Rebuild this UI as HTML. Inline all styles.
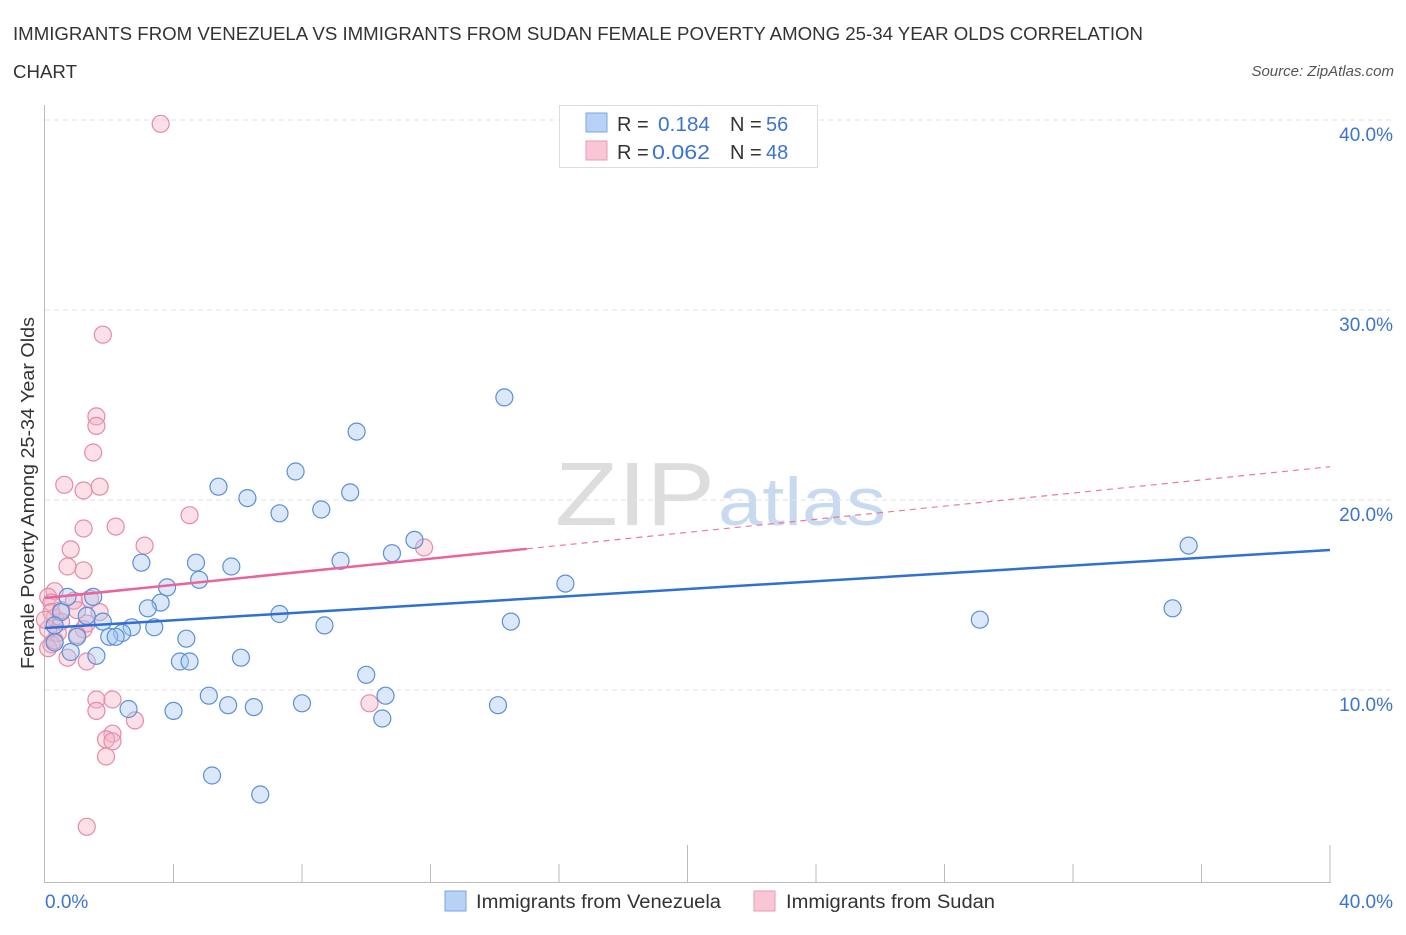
<!DOCTYPE html>
<html><head><meta charset="utf-8"><style>
body{margin:0;background:#fff;font-family:"Liberation Sans",sans-serif;}
svg text{font-family:"Liberation Sans",sans-serif;}
</style></head><body>
<svg id="chart" width="1406" height="930" xmlns="http://www.w3.org/2000/svg">
<text x="13" y="40" font-size="18" fill="#333" textLength="1130" lengthAdjust="spacingAndGlyphs">IMMIGRANTS FROM VENEZUELA VS IMMIGRANTS FROM SUDAN FEMALE POVERTY AMONG 25-34 YEAR OLDS CORRELATION</text>
<text x="13" y="78" font-size="18" fill="#333" textLength="64" lengthAdjust="spacingAndGlyphs">CHART</text>
<text x="1394" y="76" font-size="15" fill="#555" text-anchor="end" font-style="italic">Source: ZipAtlas.com</text>
<text x="555" y="525" font-size="90" fill="#ddd" font-family="Liberation Serif" textLength="160" lengthAdjust="spacingAndGlyphs">ZIP</text>
<text x="718" y="525" font-size="68" fill="#c8daf0" textLength="168" lengthAdjust="spacingAndGlyphs">atlas</text>
<g id="grid"></g>
<g id="axes"></g>
<g id="marks"></g>
<text transform="translate(34,493) rotate(-90)" font-size="18" fill="#333" text-anchor="middle" textLength="352" lengthAdjust="spacingAndGlyphs">Female Poverty Among 25-34 Year Olds</text>
<g>
<rect x="559.5" y="105.5" width="258" height="62" fill="#fff" stroke="#ddd"/>
<rect x="586" y="113" width="21" height="19" fill="#b8d2f6" stroke="#7aa6e6"/>
<rect x="586" y="141" width="21" height="19" fill="#f9c6d6" stroke="#eb9ab4"/>
<text x="617" y="131" font-size="20" fill="#333">R =</text>
<text x="658" y="131" font-size="20" fill="#3b74d0" textLength="52" lengthAdjust="spacingAndGlyphs">0.184</text>
<text x="730" y="131" font-size="20" fill="#333">N =</text>
<text x="766" y="131" font-size="20" fill="#3b74d0">56</text>
<text x="617" y="159" font-size="20" fill="#333">R =</text>
<text x="652" y="159" font-size="20" fill="#3b74d0" textLength="58" lengthAdjust="spacingAndGlyphs">0.062</text>
<text x="730" y="159" font-size="20" fill="#333">N =</text>
<text x="766" y="159" font-size="20" fill="#3b74d0">48</text>
</g>
<g>
<rect x="445" y="891" width="21" height="20" fill="#b8d2f6" stroke="#7aa6e6"/>
<text x="476" y="908" font-size="19" fill="#333" textLength="245" lengthAdjust="spacingAndGlyphs">Immigrants from Venezuela</text>
<rect x="754" y="891" width="21" height="20" fill="#f9c6d6" stroke="#eb9ab4"/>
<text x="786" y="908" font-size="19" fill="#333" textLength="209" lengthAdjust="spacingAndGlyphs">Immigrants from Sudan</text>
</g>
</svg>
<script>
const blueX=[14.3,9.7,7.8,5.4,6.3,9.5,8.6,7.3,11.5,10.8,9.2,4.7,5.8,3.0,35.6,16.2,4.8,3.8,3.6,3.2,35.1,1.5,0.7,0.5,1.8,2.7,3.4,2.4,2.0,2.2,4.4,7.3,8.7,14.5,29.1,0.3,1.0,0.3,0.8,1.6,6.1,4.2,4.5,10.0,5.1,10.6,5.7,8.0,6.5,2.6,4.0,14.1,10.5,5.2,6.7,1.3];
const blueY=[25.4,23.6,21.5,20.7,20.1,20.4,19.5,19.3,17.9,17.2,16.8,16.7,16.5,16.7,17.6,15.6,15.8,15.4,14.6,14.3,14.3,14.9,14.9,14.1,13.6,13.3,13.3,13.0,12.8,12.8,12.7,14.0,13.4,13.6,13.7,12.5,12.8,13.4,12.0,11.8,11.7,11.5,11.5,10.8,9.7,9.7,9.2,9.3,9.1,9.0,8.9,9.2,8.5,5.5,4.5,13.9];
const pinkX=[3.6,1.8,1.6,1.6,1.5,0.6,1.7,1.2,4.5,1.2,2.2,3.1,0.8,11.8,0.7,1.2,0.3,0.1,0.2,0.9,1.4,0.3,0.5,1.7,1.2,0.4,1.3,0.2,0.1,0.3,1.0,0.7,1.3,1.6,2.1,1.6,2.8,10.1,2.1,1.9,2.1,1.9,1.3,0.2,0.1,1.0,0.5,0.0];
const pinkY=[39.8,28.7,24.4,23.9,22.5,20.8,20.7,20.5,19.2,18.5,18.6,17.6,17.4,17.5,16.5,16.3,15.2,14.9,14.6,14.7,14.8,13.8,13.6,14.1,13.2,13.0,13.5,12.4,12.2,12.6,12.9,11.7,11.5,9.5,9.5,8.9,8.4,9.3,7.7,7.4,7.3,6.5,2.8,14.1,13.2,14.2,14.2,13.7];
const blueTrend=[13.26,17.37];
const pinkTrend=[14.84,21.75];
const pinkSolidEnd=15;
const yTicks=[10,20,30,40];
const NS="http://www.w3.org/2000/svg";
const X=v=>45+v/40*1285;
const Y=v=>880-v*19;
function mk(t,a,p){const e=document.createElementNS(NS,t);for(const k in a)e.setAttribute(k,a[k]);p.appendChild(e);return e;}
const grid=document.getElementById('grid'),axes=document.getElementById('axes'),marks=document.getElementById('marks');
yTicks.forEach(t=>{
 const l=mk('line',{x1:45,x2:1395,y1:Y(t),y2:Y(t),stroke:'#e2e2e2','stroke-dasharray':'5,4'},grid);
 
 
 const tx=mk('text',{x:1393,y:Y(t)+21,'font-size':19,fill:'#3b74d0','text-anchor':'end'},axes);
 tx.textContent=t.toFixed(1)+'%';
 
 
});
const ya=mk('line',{x1:44.5,x2:44.5,y1:105,y2:883,stroke:'#bbb'},axes);


const xa=mk('line',{x1:44,x2:1331,y1:882.5,y2:882.5,stroke:'#bbb'},axes);


for(let i=1;i<=10;i++){
 const x=X(i*4);const tk=mk('line',{x1:x,x2:x,y1:(i==5||i==10)?845:864,y2:882,stroke:'#bbb'},axes);
 
 
}
const xl0=mk('text',{x:45,y:908,'font-size':19,fill:'#3b74d0'},axes);xl0.textContent='0.0%';


const xl1=mk('text',{x:1393,y:908,'font-size':19,fill:'#3b74d0','text-anchor':'end'},axes);xl1.textContent='40.0%';


function pts(xs,ys,fill,stroke,name){xs.forEach((x,i)=>{
 const c=mk('circle',{cx:X(x),cy:Y(ys[i]),r:8.5,fill:fill,'fill-opacity':0.4,stroke:stroke,'stroke-width':1.2},marks);
 
 
});}
pts(pinkX,pinkY,'#f6b2c6','#e68aa8','point-sudan');
pts(blueX,blueY,'#a6c6f0','#5b8fd8','point-venezuela');
const pv=v=>pinkTrend[0]+(pinkTrend[1]-pinkTrend[0])*v/40;
const pd=mk('line',{x1:X(pinkSolidEnd),y1:Y(pv(pinkSolidEnd)),x2:X(40),y2:Y(pinkTrend[1]),stroke:'#e87aa0','stroke-width':1.2,'stroke-dasharray':'6,5'},marks);


const ps=mk('line',{x1:X(0),y1:Y(pinkTrend[0]),x2:X(pinkSolidEnd),y2:Y(pv(pinkSolidEnd)),stroke:'#e8649a','stroke-width':2.5},marks);


const bt=mk('line',{x1:X(0),y1:Y(blueTrend[0]),x2:X(40),y2:Y(blueTrend[1]),stroke:'#2f6fd6','stroke-width':2.5},marks);


</script>
</body></html>
